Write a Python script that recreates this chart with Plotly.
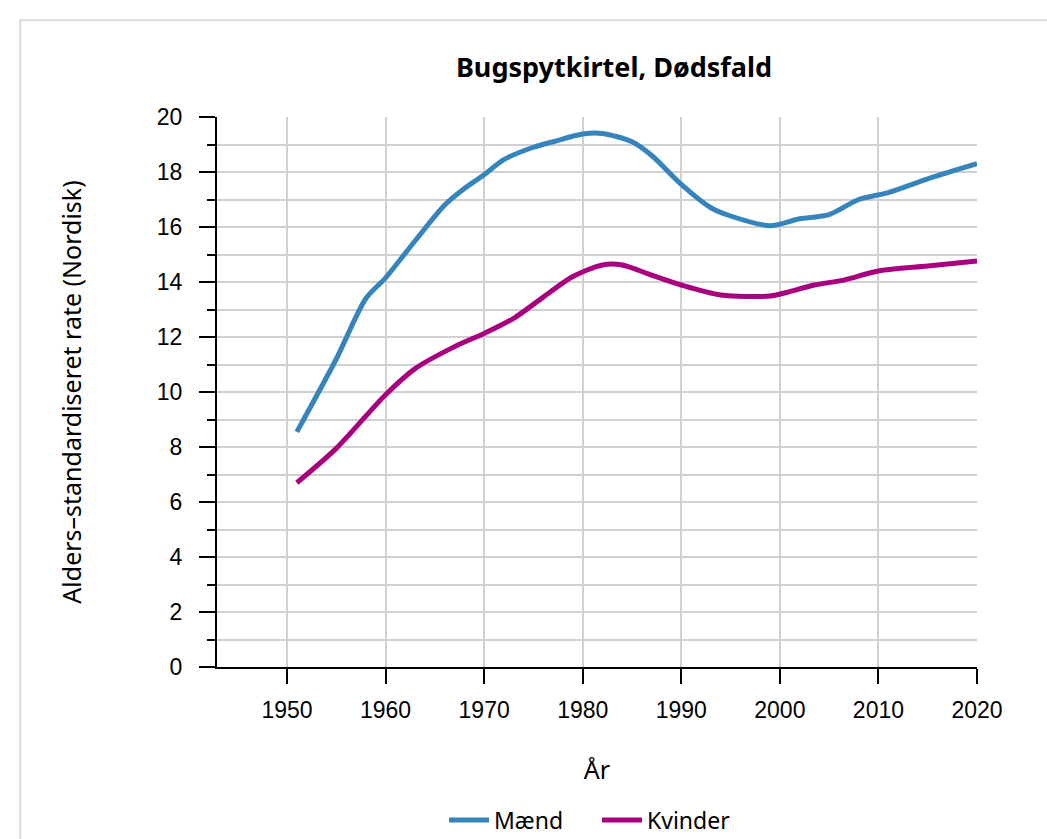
import plotly.graph_objects as go

years_maend = [1951, 1955, 1958, 1960, 1963, 1966, 1968, 1970, 1972, 1975, 1977, 1980, 1982,
               1985, 1987, 1990, 1993, 1995, 1999, 2002, 2005, 2008, 2011, 2015, 2020]
maend = [8.55, 11.2, 13.4, 14.15, 15.5, 16.8, 17.4, 17.9, 18.45, 18.9, 19.1, 19.38, 19.4,
         19.1, 18.6, 17.55, 16.7, 16.4, 16.05, 16.3, 16.45, 17.0, 17.25, 17.75, 18.3]

years_kvinder = [1951, 1955, 1960, 1963, 1967, 1970, 1973, 1976, 1979, 1982, 1984, 1987,
                 1990, 1994, 1999, 2001, 2003.5, 2006.5, 2010, 2015, 2020]
kvinder = [6.7, 7.95, 9.9, 10.85, 11.65, 12.13, 12.68, 13.45, 14.2, 14.62, 14.62, 14.25,
           13.89, 13.53, 13.49, 13.65, 13.89, 14.07, 14.4, 14.58, 14.76]

x_ticks = [1950, 1960, 1970, 1980, 1990, 2000, 2010, 2020]
y_ticks = [0, 2, 4, 6, 8, 10, 12, 14, 16, 18, 20]

BLUE = "#3584bc"
MAGENTA = "#a8007f"
GRID = "#d0d0d0"
TEXT_FONT = "Noto Sans"
TICK_FONT = "Liberation Sans, Arial"

fig = go.Figure()
fig.add_trace(go.Scatter(x=years_maend, y=maend, mode="lines", name="Mænd",
                         line=dict(color=BLUE, width=5, shape="spline", smoothing=0.8)))
fig.add_trace(go.Scatter(x=years_kvinder, y=kvinder, mode="lines", name="Kvinder",
                         line=dict(color=MAGENTA, width=5, shape="spline", smoothing=0.8)))

fig.update_layout(
    width=1047, height=839,
    margin=dict(l=217, r=70, t=117, b=172, autoexpand=False),
    paper_bgcolor="white", plot_bgcolor="white",
    title=dict(text="<b>Bugspytkirtel, Dødsfald</b>", x=0.5864, xref="container",
               y=0.919, yref="container", xanchor="center", yanchor="middle",
               font=dict(family=TEXT_FONT, size=27, color="black")),
    showlegend=True,
    legend=dict(orientation="h", x=0.5702, xref="container", xanchor="center",
                y=0.0226, yref="container", yanchor="middle",
                itemwidth=40, entrywidth=98,
                font=dict(family=TEXT_FONT, size=23, color="black"),
                bgcolor="rgba(0,0,0,0)"),
    xaxis=dict(range=[1942.9, 2020], tickvals=x_ticks, ticktext=[str(v) for v in x_ticks],
               showgrid=True, gridcolor=GRID, gridwidth=2,
               showline=True, linecolor="black", linewidth=2,
               ticks="outside", ticklen=15, tickwidth=2, tickcolor="black",
               ticklabelstandoff=6,
               tickfont=dict(family=TICK_FONT, size=23, color="black"),
               title=dict(text="År", font=dict(family=TEXT_FONT, size=25, color="black"), standoff=40),
               zeroline=False),
    yaxis=dict(range=[0, 20], tickvals=y_ticks,
               showgrid=True, gridcolor=GRID, gridwidth=2,
               showline=True, linecolor="black", linewidth=2,
               ticks="outside", ticklen=16, tickwidth=2, tickcolor="black",
               ticklabelstandoff=12,
               tickfont=dict(family=TICK_FONT, size=23, color="black"),
               minor=dict(dtick=1, ticks="outside", ticklen=8, tickwidth=2, tickcolor="black",
                          showgrid=True, gridcolor=GRID, gridwidth=2),
               title=dict(text="Alders\u2013standardiseret rate (Nordisk)",
                          font=dict(family=TEXT_FONT, size=25, color="black"), standoff=68),
               zeroline=False),
)

fig.add_shape(type="rect", xref="paper", yref="paper",
              x0=-0.259, x1=1.3, y0=-0.5, y1=1.176,
              line=dict(color="#d9d9d9", width=2), fillcolor="rgba(0,0,0,0)", layer="below")

fig.write_html("out.html", config={"displayModeBar": False},
               post_script="document.body.style.margin='0';document.body.style.overflow='hidden';")
